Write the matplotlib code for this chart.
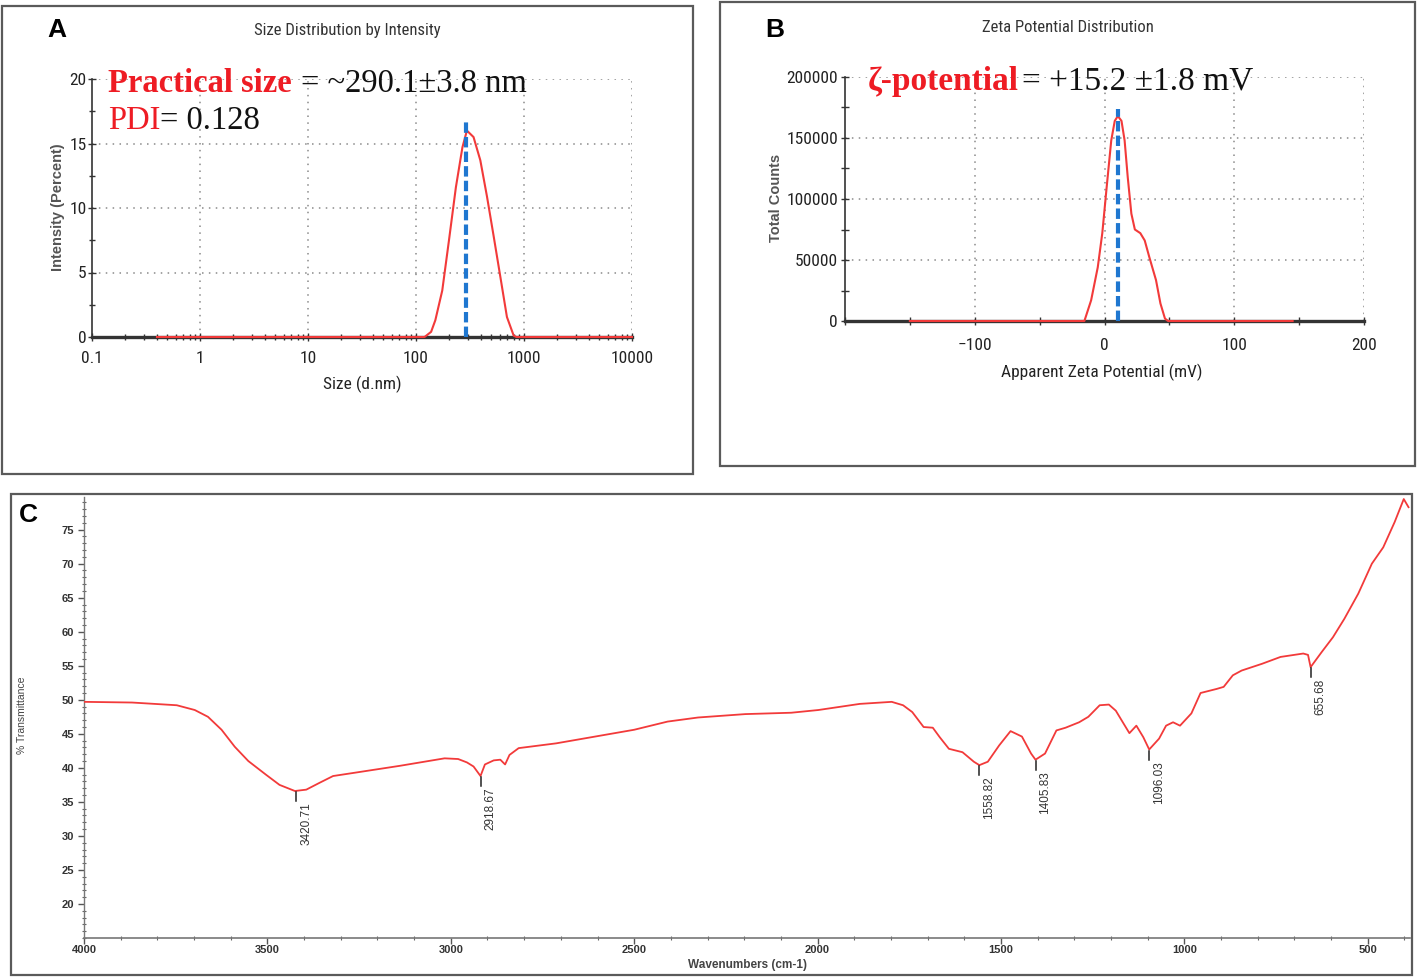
import numpy as np
import matplotlib
matplotlib.use('Agg')
import matplotlib.pyplot as plt
from matplotlib import font_manager as fm
from matplotlib.patches import Rectangle
from matplotlib.ticker import FixedLocator, FixedFormatter, MultipleLocator, NullFormatter, LogLocator

# ---------------- data ----------------
# Panel A: size distribution by intensity
size_nm = [0.4, 120, 138, 151, 175, 202, 234, 269, 296, 341, 394, 454, 524, 603, 695, 803, 850, 10000]
intensity = [0, 0, 0.4, 1.3, 3.6, 7.5, 11.6, 14.7, 16.0, 15.5, 13.7, 10.9, 7.8, 4.7, 1.55, 0.1, 0, 0]
size_peak = 290.1
size_peak_height = 16.8
size_xticks = [0.1, 1, 10, 100, 1000, 10000]
size_xlabels = ['0.1', '1', '10', '100', '1000', '10000']
size_yticks = [0, 5, 10, 15, 20]

# Panel B: zeta potential distribution
zeta_mv = [-150, -15.5, -10.3, -5.2, -1.7, 1.7, 5.2, 7.9, 10.3, 13.1, 15.5, 17.9, 20.7, 23.4,
           27.6, 31, 34.5, 39.7, 43.1, 46.6, 49, 145]
zeta_counts = [0, 0, 17000, 44000, 72000, 110000, 148000, 164000, 168000, 164000, 148000, 118000,
               88000, 75000, 72000, 66000, 52500, 33500, 14400, 2000, 0, 0]
zeta_peak = 10.5
zeta_peak_height = 174000
zeta_xticks = [-100, 0, 100, 200]
zeta_yticks = [0, 50000, 100000, 150000, 200000]

# Panel C: FTIR spectrum
wn = [4000, 3869, 3747, 3698, 3662, 3625, 3589, 3552, 3504, 3467, 3425, 3394, 3358, 3321, 3260,
      3139, 3017, 2980, 2956, 2938, 2919, 2907, 2883, 2865, 2852, 2840, 2815, 2713, 2500, 2409,
      2326, 2197, 2072, 1998, 1885, 1798, 1767, 1742, 1711, 1686, 1667, 1642, 1605, 1574, 1559,
      1536, 1505, 1474, 1443, 1418, 1406, 1380, 1349, 1324, 1287, 1262, 1231, 1206, 1187, 1168,
      1150, 1131, 1112, 1096, 1069, 1050, 1031, 1012, 981, 956, 912, 893, 868, 844, 788, 738,
      676, 663, 656, 626, 595, 564, 526, 489, 458, 427, 402, 389]
transmittance = [49.7, 49.6, 49.2, 48.5, 47.5, 45.6, 43.1, 41.0, 39.0, 37.5, 36.6, 36.8, 37.8, 38.8,
                 39.3, 40.3, 41.4, 41.3, 40.8, 40.2, 38.8, 40.5, 41.1, 41.2, 40.5, 41.9, 42.9, 43.6,
                 45.6, 46.8, 47.4, 47.9, 48.1, 48.5, 49.4, 49.7, 49.2, 48.2, 46.0, 45.9, 44.5, 42.8,
                 42.3, 40.9, 40.4, 40.9, 43.3, 45.4, 44.6, 42.1, 41.2, 42.1, 45.5, 45.9, 46.7, 47.5,
                 49.2, 49.3, 48.4, 46.7, 45.1, 46.2, 44.5, 42.7, 44.3, 46.2, 46.7, 46.2, 48.0, 51.0,
                 51.6, 51.9, 53.6, 54.3, 55.3, 56.3, 56.8, 56.6, 54.8, 57.0, 59.2, 61.9, 65.6, 70.0,
                 72.4, 76.1, 79.5, 78.3]
peak_wn = [3420.71, 2918.67, 1558.82, 1405.83, 1096.03, 655.68]
peak_labels = ['3420.71', '2918.67', '1558.82', '1405.83', '1096.03', '655.68']
ftir_xticks = [4000, 3500, 3000, 2500, 2000, 1500, 1000, 500]
ftir_yticks = [20, 25, 30, 35, 40, 45, 50, 55, 60, 65, 70, 75]

# ---------------- style helpers ----------------
def pick(names):
    for n in names:
        try:
            fm.findfont(fm.FontProperties(family=n), fallback_to_default=False)
            return n
        except Exception:
            pass
    return 'DejaVu Sans'

NARROW = pick(['Liberation Sans Narrow', 'Roboto Condensed', 'DejaVu Sans'])
SANS = pick(['Liberation Sans', 'DejaVu Sans'])
SERIF = pick(['Liberation Serif', 'DejaVu Serif'])

W, H = 1417, 977
fig = plt.figure(figsize=(W / 100, H / 100), dpi=100)
fig.patch.set_facecolor('white')

def fx(x):
    return x / W

def fy(y):
    return 1 - y / H

def box(x0, y0, x1, y1):
    fig.patches.append(Rectangle((fx(x0), fy(y1)), fx(x1) - fx(x0), fy(y0) - fy(y1),
                                 transform=fig.transFigure, fill=False, ec='#5a5a5a', lw=1.6))

def add_ax(x0, y0, x1, y1):
    return fig.add_axes([fx(x0), fy(y1), fx(x1) - fx(x0), fy(y0) - fy(y1)])

RED_LINE = '#f23a3a'
RED_TXT = '#ee1c24'
BLUE = '#1f77d0'
GRID = dict(color='#8a8a8a', lw=1.1, linestyle=(0, (1, 3.5)))

renderer = fig.canvas.get_renderer()

def chain(x, y, parts):
    xf = fx(x)
    for s, kw, gap in parts:
        t = fig.text(xf, fy(y), s, va='baseline', ha='left', **kw)
        bb = t.get_window_extent(renderer=renderer)
        xf = bb.x1 / W + fx(gap)

# ---------------- panel boxes ----------------
box(2, 6, 693, 474)
box(720, 2, 1415, 466)
box(11, 494, 1412, 975)

# ---------------- Panel A ----------------
axA = add_ax(92, 79, 632, 337)
axA.set_xscale('log')
axA.set_xlim(0.1, 10000)
axA.set_ylim(0, 20)
for v in size_xticks[1:]:
    axA.axvline(v, **GRID, zorder=0)
for v in size_yticks[1:]:
    axA.axhline(v, **GRID, zorder=0)
axA.plot(size_nm, intensity, color=RED_LINE, lw=1.5, zorder=4, clip_on=False)
axA.plot([size_peak, size_peak], [0, size_peak_height], color=BLUE, lw=3,
         linestyle=(0, (2.5, 1.0)), zorder=5)
for s in ['top', 'right']:
    axA.spines[s].set_visible(False)
axA.spines['left'].set_color('#333333')
axA.spines['left'].set_linewidth(1.2)
axA.spines['bottom'].set_color('#333333')
axA.spines['bottom'].set_linewidth(2.4)
axA.xaxis.set_major_locator(FixedLocator(size_xticks))
axA.xaxis.set_major_formatter(FixedFormatter(size_xlabels))
axA.xaxis.set_minor_locator(LogLocator(base=10, subs=np.arange(2, 10), numticks=20))
axA.xaxis.set_minor_formatter(NullFormatter())
axA.yaxis.set_major_locator(FixedLocator(size_yticks))
axA.yaxis.set_minor_locator(MultipleLocator(2.5))
axA.tick_params(axis='both', which='major', direction='inout', length=6, width=1, color='#333333',
                labelsize=12.5, labelcolor='#222222', labelfontfamily=NARROW)
axA.tick_params(axis='both', which='minor', direction='inout', length=4, width=1, color='#333333')
axA.tick_params(axis='x', pad=7)
axA.tick_params(axis='y', pad=1)
axA.set_facecolor('none')

fig.text(fx(347), fy(31), 'Size Distribution by Intensity', ha='center', va='center',
         fontsize=12, family=NARROW, color='#333333')
fig.text(fx(58), fy(207), 'Intensity (Percent)', ha='center', va='center', rotation=90,
         fontsize=10.5, family=SANS, fontweight='bold', color='#555555')
fig.text(fx(362), fy(384), 'Size (d.nm)', ha='center', va='center',
         fontsize=12.5, family=NARROW, color='#222222')
fig.text(fx(57), fy(30), 'A', ha='center', va='center', fontsize=19, family=SANS,
         fontweight='bold', color='black')
chain(108, 92, [('Practical size', dict(family=SERIF, fontsize=23.5, fontweight='bold', color=RED_TXT), 9),
                ('= ~290.1\u00b13.8 nm', dict(family=SERIF, fontsize=23.5, color='#111111'), 0)])
chain(108, 129, [('PDI', dict(family=SERIF, fontsize=23.5, color=RED_TXT), 0),
                 ('= 0.128', dict(family=SERIF, fontsize=23.5, color='#111111'), 0)])

# ---------------- Panel B ----------------
axB = add_ax(845, 77, 1364, 321)
axB.set_xlim(-200, 200)
axB.set_ylim(0, 200000)
for v in zeta_xticks:
    axB.axvline(v, **GRID, zorder=0)
for v in zeta_yticks[1:]:
    axB.axhline(v, **GRID, zorder=0)
axB.plot(zeta_mv, zeta_counts, color=RED_LINE, lw=1.5, zorder=4, clip_on=False)
axB.plot([zeta_peak, zeta_peak], [0, zeta_peak_height], color=BLUE, lw=3,
         linestyle=(0, (2.5, 1.0)), zorder=5)
for s in ['top', 'right']:
    axB.spines[s].set_visible(False)
axB.spines['left'].set_color('#333333')
axB.spines['left'].set_linewidth(1.2)
axB.spines['bottom'].set_color('#333333')
axB.spines['bottom'].set_linewidth(2.4)
axB.xaxis.set_major_locator(FixedLocator(zeta_xticks))
axB.xaxis.set_minor_locator(MultipleLocator(50))
axB.yaxis.set_major_locator(FixedLocator(zeta_yticks))
axB.yaxis.set_major_formatter(FixedFormatter([str(v) for v in zeta_yticks]))
axB.yaxis.set_minor_locator(MultipleLocator(25000))
axB.tick_params(axis='both', which='major', direction='inout', length=6, width=1, color='#333333',
                labelsize=12.5, labelcolor='#222222', labelfontfamily=NARROW)
axB.tick_params(axis='both', which='minor', direction='inout', length=6, width=1, color='#333333')
axB.tick_params(axis='x', pad=9)
axB.tick_params(axis='y', pad=2)
axB.set_facecolor('none')

fig.text(fx(1068), fy(28), 'Zeta Potential Distribution', ha='center', va='center',
         fontsize=12, family=NARROW, color='#333333')
fig.text(fx(776), fy(198), 'Total Counts', ha='center', va='center', rotation=90,
         fontsize=10.5, family=SANS, fontweight='bold', color='#555555')
fig.text(fx(1102), fy(372), 'Apparent Zeta Potential (mV)', ha='center', va='center',
         fontsize=12.5, family=NARROW, color='#222222')
fig.text(fx(775), fy(30), 'B', ha='center', va='center', fontsize=19, family=SANS,
         fontweight='bold', color='black')
chain(868, 90, [('\u03b6-potential', dict(family=SERIF, fontsize=24, fontweight='bold', color=RED_TXT), 3),
                ('= +15.2 \u00b11.8 mV', dict(family=SERIF, fontsize=24, color='#111111'), 0)])

# ---------------- Panel C ----------------
axC = add_ax(84, 497, 1410, 938)
axC.set_xlim(4000, 385)
axC.set_ylim(15, 79.8)
axC.plot(wn, transmittance, color=RED_LINE, lw=1.3, zorder=3)
for s in ['top', 'right']:
    axC.spines[s].set_visible(False)
axC.spines['left'].set_color('#777777')
axC.spines['bottom'].set_color('#777777')
axC.spines['left'].set_linewidth(1.0)
axC.spines['bottom'].set_linewidth(1.2)
axC.xaxis.set_major_locator(FixedLocator(ftir_xticks))
axC.xaxis.set_minor_locator(MultipleLocator(100))
axC.yaxis.set_major_locator(FixedLocator(ftir_yticks))
axC.yaxis.set_minor_locator(MultipleLocator(1))
axC.tick_params(axis='both', which='major', direction='out', length=4, width=1, color='#555555',
                labelsize=8, labelcolor='#333333')
axC.tick_params(axis='both', which='minor', direction='inout', length=2.5, width=0.8, color='#666666')
axC.tick_params(axis='x', pad=1)
axC.tick_params(axis='y', pad=3)
for lab in axC.get_xticklabels() + axC.get_yticklabels():
    lab.set_fontweight('bold')
    lab.set_family(SANS)
axC.set_facecolor('none')

wn_sorted = np.array(wn[::-1], dtype=float)
t_sorted = np.array(transmittance[::-1], dtype=float)
for p, lab in zip(peak_wn, peak_labels):
    ymin = float(np.interp(p, wn_sorted, t_sorted))
    axC.plot([p, p], [ymin - 0.2, ymin - 1.5], color='#222222', lw=1.1, zorder=4)
    axC.annotate(lab, xy=(p, ymin - 1.7), xytext=(7, 0), textcoords='offset points',
                 rotation=90, ha='center', va='top', fontsize=8.5, family=SANS, color='#333333')

fig.text(fx(22), fy(715), '% Transmittance', ha='center', va='center', rotation=90,
         fontsize=7.5, family=SANS, color='#444444')
fig.text(fx(747), fy(965), 'Wavenumbers (cm-1)', ha='center', va='center',
         fontsize=8.5, family=SANS, fontweight='bold', color='#444444')
fig.text(fx(28), fy(515), 'C', ha='center', va='center', fontsize=19, family=SANS,
         fontweight='bold', color='black')

fig.savefig('out.png', dpi=100, facecolor='white')
